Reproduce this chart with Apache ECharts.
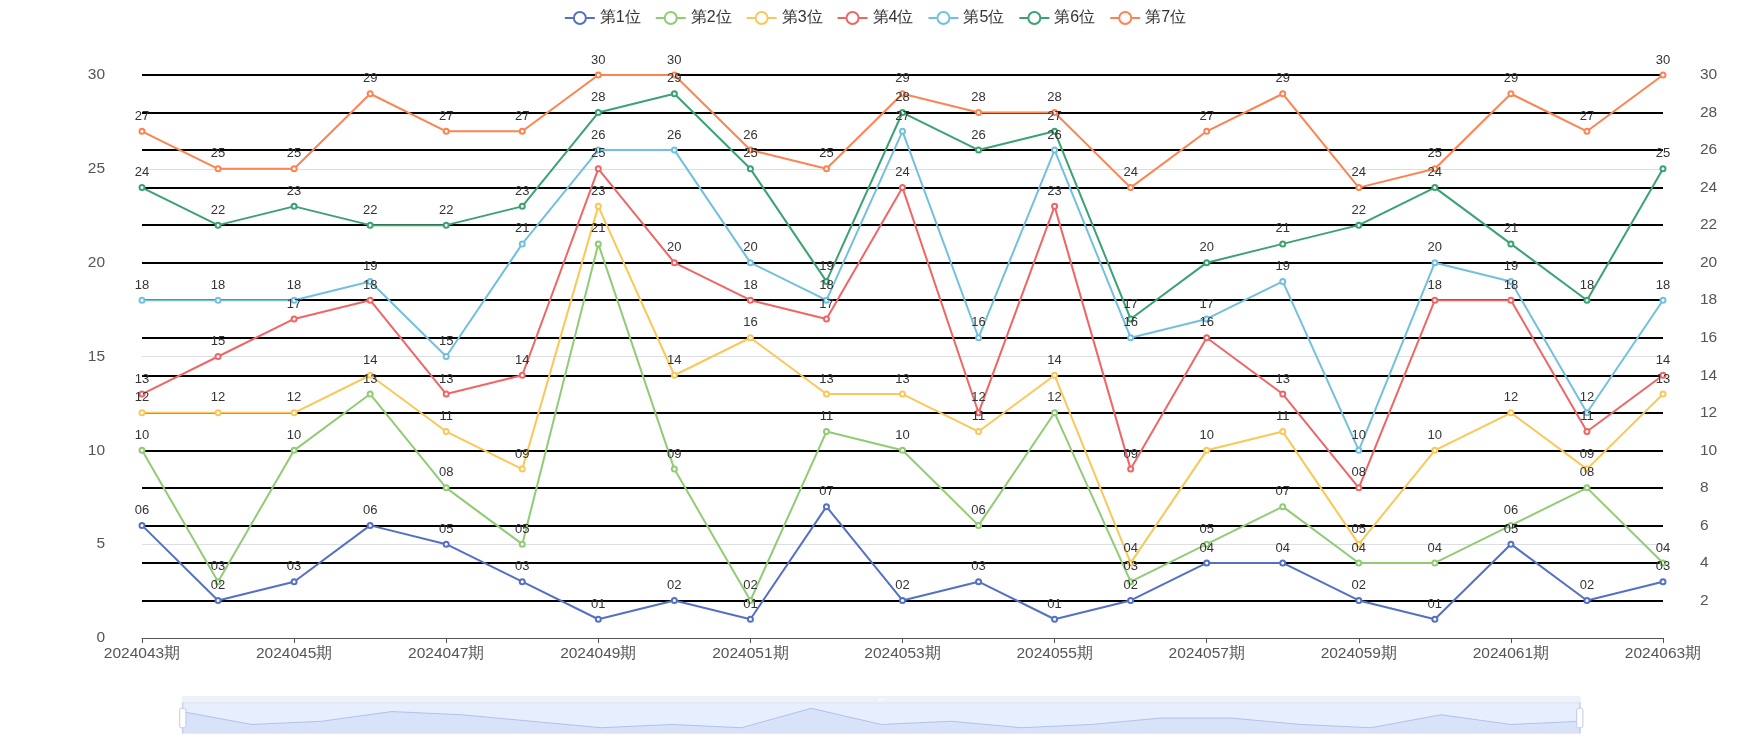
<!DOCTYPE html>
<html>
<head>
<meta charset="utf-8">
<script src="https://cdn.jsdelivr.net/npm/echarts@6/dist/echarts.min.js"></script>
<style>html,body{margin:0;padding:0;background:#fff}#main{width:1750px;height:750px}</style>
</head>
<body>
<div id="main"></div>
<script>
var categories = ['2024043期','2024044期','2024045期','2024046期','2024047期','2024048期','2024049期','2024050期','2024051期','2024052期','2024053期','2024054期','2024055期','2024056期','2024057期','2024058期','2024059期','2024060期','2024061期','2024062期','2024063期'];
var seriesNames = ['第1位','第2位','第3位','第4位','第5位','第6位','第7位'];
var pos1 = [6, 2, 3, 6, 5, 3, 1, 2, 1, 7, 2, 3, 1, 2, 4, 4, 2, 1, 5, 2, 3];
var pos2 = [10, 3, 10, 13, 8, 5, 21, 9, 2, 11, 10, 6, 12, 3, 5, 7, 4, 4, 6, 8, 4];
var pos3 = [12, 12, 12, 14, 11, 9, 23, 14, 16, 13, 13, 11, 14, 4, 10, 11, 5, 10, 12, 9, 13];
var pos4 = [13, 15, 17, 18, 13, 14, 25, 20, 18, 17, 24, 12, 23, 9, 16, 13, 8, 18, 18, 11, 14];
var pos5 = [18, 18, 18, 19, 15, 21, 26, 26, 20, 18, 27, 16, 26, 16, 17, 19, 10, 20, 19, 12, 18];
var pos6 = [24, 22, 23, 22, 22, 23, 28, 29, 25, 19, 28, 26, 27, 17, 20, 21, 22, 24, 21, 18, 25];
var pos7 = [27, 25, 25, 29, 27, 27, 30, 30, 26, 25, 29, 28, 28, 24, 27, 29, 24, 25, 29, 27, 30];
var leftTicks = {min: 0, max: 30, interval: 5};
var rightTicks = {min: 0, max: 30, interval: 2};

var allData = [pos1, pos2, pos3, pos4, pos5, pos6, pos7];
var chart = echarts.init(document.getElementById('main'));
var series = allData.map(function (d, i) {
  return {
    name: seriesNames[i],
    type: 'line',
    data: d,
    symbol: 'emptyCircle',
    symbolSize: 5,
    lineStyle: {width: 2},
    label: {
      show: true,
      position: 'top',
      color: '#333',
      fontSize: 13,
      formatter: function (p) { return (p.value < 10 ? '0' : '') + p.value; }
    }
  };
});
chart.setOption({
  textStyle: {fontFamily: 'sans-serif'},
  color: ['#5470c6','#91cc75','#fac858','#ee6666','#73c0de','#3ba272','#fc8452'],
  legend: {data: seriesNames, top: 5, left: 'center', itemWidth: 30, itemHeight: 15, itemGap: 14,
           textStyle: {fontSize: 16, color: '#333'}},
  grid: {left: 142, right: 87, top: 75, bottom: 112},
  xAxis: {
    type: 'category',
    boundaryGap: false,
    data: categories,
    axisLabel: {interval: 1, fontSize: 15.5}
  },
  yAxis: [
    {type: 'value', min: leftTicks.min, max: leftTicks.max, interval: leftTicks.interval,
     axisLabel: {margin: 37, fontSize: 15.5}},
    {type: 'value', position: 'right', min: rightTicks.min, max: rightTicks.max, interval: rightTicks.interval,
     axisLabel: {margin: 37, fontSize: 15.5, showMinLabel: false},
     splitLine: {show: true, showMinLine: false, lineStyle: {color: '#000', width: 2}}}
  ],
  dataZoom: [
    {type: 'slider', xAxisIndex: 0, start: 0, end: 100, left: 179, right: 172, top: 696, height: 31,
     moveHandleStyle: {color: '#DEE3F3'}}
  ],
  series: series
});
</script>
</body>
</html>
